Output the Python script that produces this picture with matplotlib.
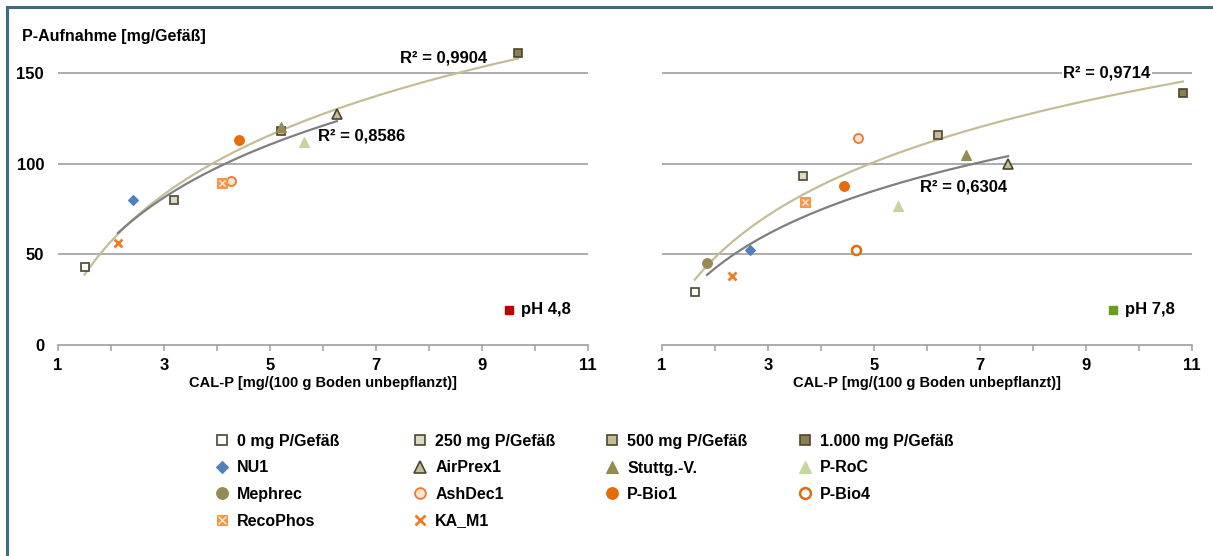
import numpy as np
import matplotlib
matplotlib.use("Agg")
import matplotlib.pyplot as plt
from matplotlib.lines import Line2D
from matplotlib.legend_handler import HandlerTuple

plt.rcParams['font.family'] = ['Liberation Sans', 'DejaVu Sans']
plt.rcParams['font.weight'] = 'bold'

nan = np.nan
series = ['0 mg P/Gefäß', '250 mg P/Gefäß', '500 mg P/Gefäß', '1.000 mg P/Gefäß',
          'NU1', 'AirPrex1', 'Stuttg.-V.', 'P-RoC', 'Mephrec', 'AshDec1',
          'P-Bio1', 'P-Bio4', 'RecoPhos', 'KA_M1']
cal_p_ph48 = [1.50, 3.19, 5.20, 9.68, 2.42, 6.26, 5.21, 5.64, nan, 4.26, 4.42, nan, 4.09, 2.13]
uptake_ph48 = [43, 80, 118, 161, 80, 127.5, 120, 112, nan, 90.5, 113, nan, 89.5, 56]
cal_p_ph78 = [1.62, 3.66, 6.20, 10.83, 2.66, 7.53, 6.74, 5.45, 1.85, 4.70, 4.43, 4.66, 3.70, 2.32]
uptake_ph78 = [29.5, 93, 116, 139, 52.5, 100, 105, 76.5, 45, 114, 87.5, 52.5, 79, 38]
n_fertilizer = 4
r2_labels_ph48 = ['R² = 0,9904', 'R² = 0,8586']
r2_labels_ph78 = ['R² = 0,9714', 'R² = 0,6304']
ph_labels = ['pH 4,8', 'pH 7,8']
ph_colors = ['#c00000', '#6a9e1f']
y_ticks = [0, 50, 100, 150]
x_ticks = [1, 3, 5, 7, 9, 11]

DARK = '#4a4530'
OR = '#e46c0a'
styles = {
    '0 mg P/Gefäß': dict(marker='s', mfc='white', mec=DARK, ms=6, mew=1.2),
    '250 mg P/Gefäß': dict(marker='s', mfc='#ddd9c3', mec=DARK, ms=6, mew=1.2),
    '500 mg P/Gefäß': dict(marker='s', mfc='#c4bd97', mec=DARK, ms=6, mew=1.2),
    '1.000 mg P/Gefäß': dict(marker='s', mfc='#8a7f4e', mec=DARK, ms=6, mew=1.2),
    'NU1': dict(marker='D', mfc='#4f81bd', mec='#4f81bd', ms=5, mew=0.8),
    'AirPrex1': dict(marker='^', mfc='#c4bd97', mec=DARK, ms=7, mew=1.2),
    'Stuttg.-V.': dict(marker='^', mfc='#948a54', mec='#948a54', ms=7.5, mew=0.8),
    'P-RoC': dict(marker='^', mfc='#c3d69b', mec='#c3d69b', ms=7.5, mew=0.8),
    'Mephrec': dict(marker='o', mfc='#948a54', mec='#948a54', ms=7, mew=0.8),
    'AshDec1': dict(marker='o', mfc='#fde3cf', mec='#f0782a', ms=6.5, mew=1.3),
    'P-Bio1': dict(marker='o', mfc=OR, mec=OR, ms=7, mew=0.8),
    'P-Bio4': dict(marker='o', mfc='white', mec=OR, ms=6.5, mew=1.8),
    'KA_M1': dict(marker='x', mfc=OR, mec='#f07c28', ms=6, mew=2.0),
}
reco_sq = dict(marker='s', mfc='#f79646', mec='#f79646', ms=6.5, mew=0.8)
reco_x = dict(marker='x', mfc='#fde9d9', mec='#fde9d9', ms=4.5, mew=1.0)

W, H = 1213, 556
fig = plt.figure(figsize=(W / 100, H / 100), dpi=100)

ymax = 170
px_per_unit = (345 - 73) / 150.0
ax_h = ymax * px_per_unit / H
ax_b = 1 - 345 / H
axL = fig.add_axes([58 / W, ax_b, 530 / W, ax_h])
axR = fig.add_axes([662 / W, ax_b, 530 / W, ax_h])

def draw(ax, xs, ys, r2, ph_label, ph_color, r2pos, show_y):
    xs = np.array(xs, float); ys = np.array(ys, float)
    ax.set_xlim(1, 11); ax.set_ylim(0, ymax)
    for t in y_ticks[1:]:
        ax.axhline(t, color='#a6a6a6', lw=1.3, zorder=0)
    for s in ['top', 'right', 'left']:
        ax.spines[s].set_visible(False)
    ax.spines['bottom'].set_color('#a6a6a6'); ax.spines['bottom'].set_linewidth(1.3)
    ax.set_xticks(x_ticks)
    ax.set_xticks(range(2, 11, 2), minor=True)
    ax.tick_params(axis='x', which='both', length=4, color='#a6a6a6', width=1.2,
                   labelsize=12, pad=5)
    if show_y:
        ax.set_yticks(y_ticks)
        ax.tick_params(axis='y', length=0, labelsize=12, pad=10)
    else:
        ax.set_yticks([])
    for lab in ax.get_xticklabels() + ax.get_yticklabels():
        lab.set_fontweight('bold')
    # trendlines (logarithmic)
    groups = [(slice(0, n_fertilizer), '#c4bd97'), (slice(n_fertilizer, None), '#7f7f7f')]
    for (sl, col) in groups:
        gx = xs[sl]; gy = ys[sl]
        m = ~np.isnan(gx)
        a, b = np.polyfit(np.log(gx[m]), gy[m], 1)
        xx = np.linspace(gx[m].min(), gx[m].max(), 200)
        ax.plot(xx, a * np.log(xx) + b, color=col, lw=1.6, zorder=2)
    # points
    for name, x, y in zip(series, xs, ys):
        if np.isnan(x):
            continue
        if name == 'RecoPhos':
            ax.plot([x], [y], ls='none', zorder=3, **reco_sq)
            ax.plot([x], [y], ls='none', zorder=4, **reco_x)
        else:
            ax.plot([x], [y], ls='none', zorder=3, **styles[name])
    # R² labels
    for lab, (px, py, bg) in zip(r2, r2pos):
        kw = {}
        if bg:
            kw['bbox'] = dict(facecolor='white', edgecolor='none', pad=1)
        ax.text(px, py, lab, fontsize=12, fontweight='bold', ha='left', va='center', zorder=5, **kw)
    # pH label
    ax.plot([0.851], [0.114], marker='s', ms=6, color=ph_color, transform=ax.transAxes,
            clip_on=False, ls='none')
    ax.text(0.874, 0.114, ph_label, transform=ax.transAxes, fontsize=12, fontweight='bold',
            ha='left', va='center')
    ax.set_xlabel('CAL-P [mg/(100 g Boden unbepflanzt)]', fontsize=10.5, fontweight='bold')
    ax.xaxis.set_label_coords(0.5, -0.099)

draw(axL, cal_p_ph48, uptake_ph48, r2_labels_ph48, ph_labels[0], ph_colors[0],
     [(7.45, 158, False), (5.9, 115, False)], True)
draw(axR, cal_p_ph78, uptake_ph78, r2_labels_ph78, ph_labels[1], ph_colors[1],
     [(8.57, 150, True), (5.87, 87, False)], False)

fig.text(22 / W, 1 - 37 / H, 'P-Aufnahme [mg/Gefäß]', fontsize=11.5, fontweight='bold',
         ha='left', va='center')

# legend (4 columns, row-wise order)
def handle(name):
    if name == 'RecoPhos':
        return (Line2D([], [], ls='none', **reco_sq), Line2D([], [], ls='none', **reco_x))
    return Line2D([], [], ls='none', **styles[name])

columns = [[0, 4, 8, 12], [1, 5, 9, 13], [2, 6, 10], [3, 7, 11]]
col_x = [222, 420, 612, 805]
fs = 11.5
fs_px = fs * 100 / 72
for cx, idx in zip(col_x, columns):
    hs = [handle(series[i]) for i in idx]
    ls = [series[i] for i in idx]
    left = cx - fs_px * 1.0 / 2
    fig.legend(hs, ls, loc='upper left', bbox_to_anchor=(left / W, 1 - 434 / H),
               frameon=False, borderpad=0, borderaxespad=0, handlelength=1.0,
               handletextpad=0.45, labelspacing=0.72, markerscale=1.2,
               prop=dict(weight='bold', size=fs),
               handler_map={tuple: HandlerTuple(ndivide=1, pad=0)})

# frame border (left and top edges)
fig.add_artist(Line2D([7 / W, 7 / W], [0, 1 - 7 / H], color='#3f6a84', lw=2.2))
fig.add_artist(Line2D([7 / W, 1], [1 - 7 / H, 1 - 7 / H], color='#3f6a84', lw=2.2))

fig.savefig('out.png', dpi=100)
